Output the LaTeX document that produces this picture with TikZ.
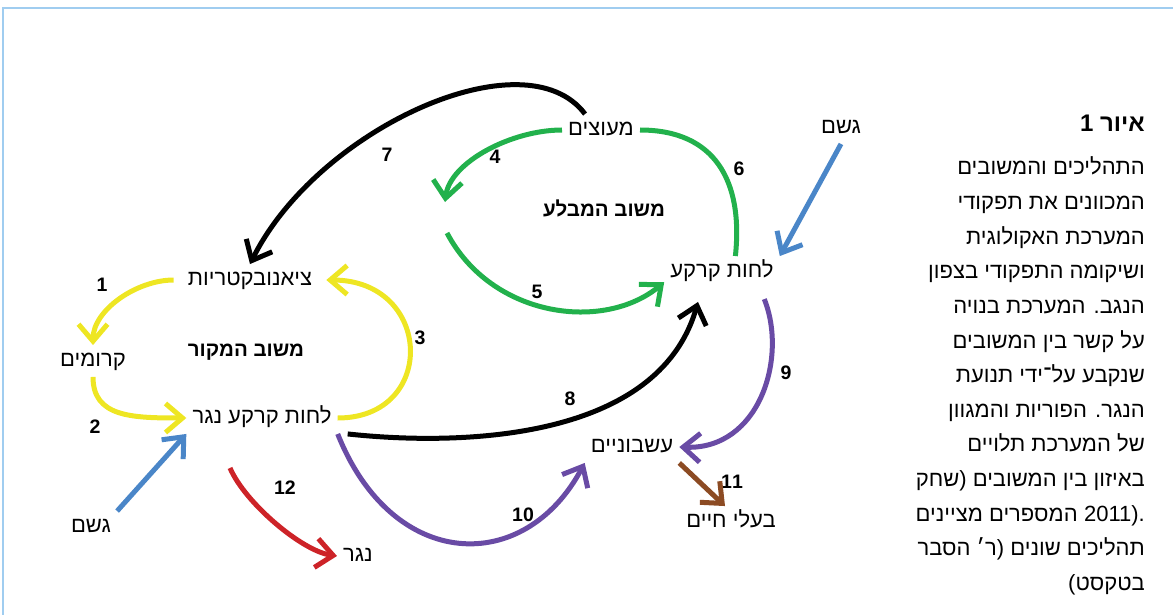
\documentclass[tikz,border=0pt]{standalone}
\usepackage{fontspec}
\usetikzlibrary{arrows.meta}
\newfontfamily\heb[Script=Hebrew]{Liberation Sans}
\newfontfamily\latn{Liberation Sans}
\TeXXeTstate=1
\newcommand{\hb}[1]{\heb\beginR #1\endR}

\definecolor{framecol}{RGB}{160,205,240}
\definecolor{yel}{RGB}{238,230,35}
\definecolor{grn}{RGB}{34,177,76}
\definecolor{blu}{RGB}{74,134,200}
\definecolor{redd}{RGB}{205,35,40}
\definecolor{pur}{RGB}{105,75,165}
\definecolor{brn}{RGB}{140,75,35}

\tikzset{
  lbl/.style={font=\heb\fontsize{22}{26}\selectfont, inner sep=6pt, text height=15pt, text depth=4.5pt},
  fbloop/.style={font=\heb\bfseries\fontsize{20.5}{24}\selectfont},
  num/.style={font=\heb\bfseries\fontsize{19.5}{22}\selectfont},
  arr/.style={line width=5pt, -{Straight Barb[length=17pt,width=29pt]}},
  plain/.style={line width=5pt},
  capline/.style={anchor=base east, inner sep=0pt, font=\heb\fontsize{22}{26}\selectfont},
}

\begin{document}
\begin{tikzpicture}[x=1pt, y=-1pt]
  \useasboundingbox (0,0) rectangle (1173,615);
  \draw[framecol, line width=1.2pt] (3,615) -- (3,8) -- (1173,8);

  \node[lbl] (cyano) at (250,280) {\hb{ציאנובקטריות}};
  \node[lbl] (crust) at (93,361) {\hb{קרומים}};
  \node[fbloop] (srcloop) at (246,352) {\hb{משוב המקור}};
  \node[lbl] (wetsoil) at (262,418) {\hb{לחות קרקע נגר}};
  \node[lbl] (rainL) at (91,527) {\hb{גשם}};
  \node[lbl] (runoff) at (358,556) {\hb{נגר}};
  \node[lbl] (shrubs) at (601,130) {\hb{מעוצים}};
  \node[fbloop] (sinkloop) at (604,208) {\hb{משוב המבלע}};
  \node[lbl] (soil) at (722,272) {\hb{לחות קרקע}};
  \node[lbl] (rainR) at (841,128) {\hb{גשם}};
  \node[lbl] (herbs) at (632,447) {\hb{עשבוניים}};
  \node[lbl] (animals) at (731,522) {\hb{בעלי חיים}};

  \node[num] (n1) at (102,285) {1};
  \node[num] (n2) at (95,427) {2};
  \node[num] (n3) at (420,338) {3};
  \node[num] (n4) at (495,157) {4};
  \node[num] (n5) at (537,292) {5};
  \node[num] (n6) at (739,169) {6};
  \node[num] (n7) at (387,155) {7};
  \node[num] (n8) at (570,399) {8};
  \node[num] (n9) at (786,373) {9};
  \node[num] (n10) at (523,515) {10};
  \node[num] (n11) at (732,482) {11};
  \node[num] (n12) at (285,488) {12};

  \coordinate (gapA) at (445,202);
  \coordinate (gapB) at (447,233);

  \draw[arr, yel, shorten <=8pt] (cyano.west) .. controls +(-45,0) and +(0,-35) .. (crust.north);
  \draw[arr, yel] (crust.south) .. controls +(0,40) and +(-55,0) .. (wetsoil.west);
  \draw[arr, yel, shorten >=8pt] (wetsoil.east) .. controls +(100,0) and +(115,0) .. (cyano.east);

  \draw[arr, grn] (shrubs.west) .. controls +(-50,0) and +(5,-40) .. (gapA);
  \draw[arr, grn] (gapB) .. controls +(45,85) and +(-60,50) .. (soil.190);
  \draw[plain, grn] (shrubs.east) .. controls +(75,0) and +(8,-75) .. (soil.50);

  \draw[arr] (shrubs.135) .. controls +(-60,-80) and +(67,-135) .. (cyano.north);
  \draw[arr] ([xshift=10pt]wetsoil.south east) .. controls +(110,12) and +(-40,140) .. ([xshift=-24pt,yshift=-14pt]soil.south);

  \draw[arr, pur, shorten <=12pt] ([xshift=-20pt]soil.south east) .. controls +(28,70) and +(80,3) .. (herbs.east);
  \draw[arr, pur] (wetsoil.south east) .. controls +(55,138) and +(-60,113) .. (herbs.south west);
  \draw[arr, brn] (herbs.south east) -- ([xshift=-6pt]animals.north);

  \draw[arr, redd] ([xshift=-32pt,yshift=-34pt]wetsoil.south) .. controls +(15,35) and +(-35,-5) .. (runoff.west);
  \draw[arr, blu] (rainR.south) -- (soil.north east);
  \draw[arr, blu] (rainL.north east) -- (wetsoil.south west);

  \node[anchor=base east, inner sep=0pt, font=\heb\bfseries\fontsize{24}{28}\selectfont] (title) at (1145,132) {\hb{איור 1}};
  \node[capline] (cap1) at (1145,175) {\beginR התהליכים והמשובים\endR};
  \node[capline] (cap2) at (1145,209.6) {\beginR המכוונים את תפקודי\endR};
  \node[capline] (cap3) at (1145,244.2) {\beginR המערכת האקולוגית\endR};
  \node[capline] (cap4) at (1145,278.8) {\beginR ושיקומה התפקודי בצפון\endR};
  \node[capline] (cap5) at (1145,313.4) {\beginR הנגב. המערכת בנויה\endR};
  \node[capline] (cap6) at (1145,348) {\beginR על קשר בין המשובים\endR};
  \node[capline] (cap7) at (1145,382.6) {\beginR שנקבע על־ידי תנועת\endR};
  \node[capline] (cap8) at (1145,417.2) {\beginR הנגר. הפוריות והמגוון\endR};
  \node[capline] (cap9) at (1145,451.8) {\beginR של המערכת תלויים\endR};
  \node[capline] (cap10) at (1145,486.4) {\beginR באיזון בין המשובים \hbox{(שחק}\endR};
  \node[capline, font=\latn\fontsize{22}{26}\selectfont] (cap11a) at (1145,521) {2011).};
  \node[capline] (cap11b) at ([xshift=-6pt]cap11a.base west) {\beginR המספרים מציינים\endR};
  \node[capline] (cap12) at (1145,555.6) {\beginR תהליכים שונים (ר׳ הסבר\endR};
  \node[capline] (cap13) at (1145,590.2) {\beginR בטקסט)\endR};
\end{tikzpicture}
\end{document}
